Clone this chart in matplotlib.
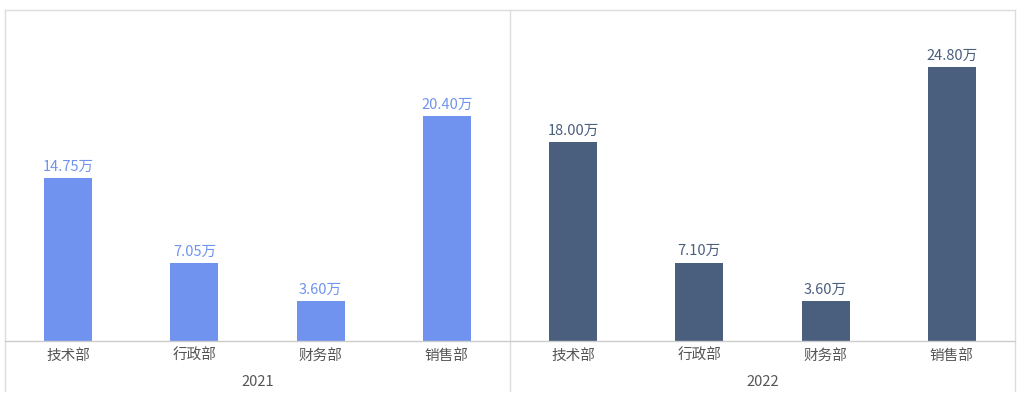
import matplotlib
matplotlib.use("Agg")
import matplotlib.pyplot as plt
from matplotlib.lines import Line2D

plt.rcParams['font.family'] = ['Noto Sans CJK SC', 'DejaVu Sans']

departments = ['技术部', '行政部', '财务部', '销售部']
years = ['2021', '2022']
values_2021 = [14.75, 7.05, 3.60, 20.40]
values_2022 = [18.00, 7.10, 3.60, 24.80]
colors = ['#6f93ee', '#4a5e7e']

W, H = 1024, 408
fig = plt.figure(figsize=(W / 100, H / 100), dpi=100)

x0, xmid, x1 = 5, 510, 1015
ytop, ybase, ybot = 10, 341, 391

def fx(px): return px / W
def fy(py): return 1 - py / H

panels = [(x0, xmid), (xmid, x1)]
for (a, b), year, vals, col in zip(panels, years, [values_2021, values_2022], colors):
    ax = fig.add_axes([fx(a), fy(ybase), fx(b - a), (ybase - ytop) / H])
    xs = list(range(len(departments)))
    ax.bar(xs, vals, width=0.38, color=col, zorder=3)
    for xi, v in zip(xs, vals):
        ax.text(xi, v + 0.4, f'{v:.2f}万', ha='center', va='bottom',
                fontsize=10.5, color=col, fontweight='medium')
    ax.set_xlim(-0.5, len(departments) - 0.5)
    ax.set_ylim(0, 30)
    ax.set_yticks([])
    ax.set_xticks(xs)
    ax.set_xticklabels(departments, fontsize=10.5, color='#555555')
    ax.tick_params(axis='x', length=0, pad=5.5)
    for s in ax.spines.values():
        s.set_visible(False)
    ax.set_facecolor('none')
    ax.set_xlabel(year, fontsize=10.5, color='#555555', labelpad=9)

lc = '#dcdcdc'
fig.add_artist(Line2D([fx(x0), fx(x1)], [fy(ytop), fy(ytop)], color=lc, lw=1))
fig.add_artist(Line2D([fx(x0), fx(x0)], [fy(ytop), fy(ybot)], color=lc, lw=1))
fig.add_artist(Line2D([fx(x1), fx(x1)], [fy(ytop), fy(ybot)], color=lc, lw=1))
fig.add_artist(Line2D([fx(xmid), fx(xmid)], [fy(ytop), fy(ybot)], color=lc, lw=1))
fig.add_artist(Line2D([fx(x0), fx(x1)], [fy(ybase), fy(ybase)], color='#cccccc', lw=1))

fig.savefig('out.png', dpi=100)
